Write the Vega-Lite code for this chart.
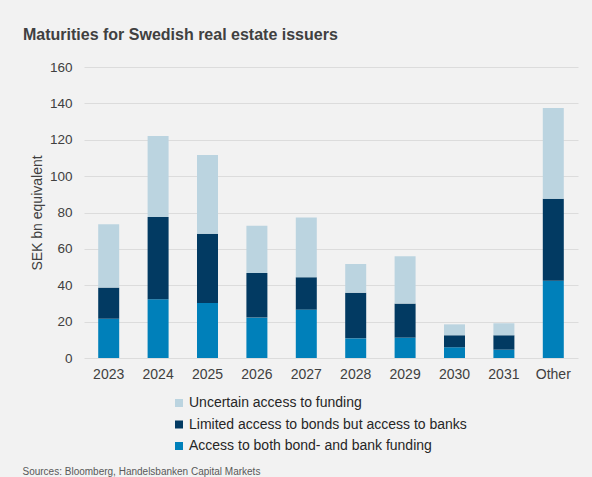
{
  "$schema": "https://vega.github.io/schema/vega-lite/v6.json",
  "width": 494,
  "height": 291,
  "autosize": {"type": "none"},
  "padding": {"left": 84, "top": 67, "right": 14, "bottom": 119},
  "background": "#F2F2F2",
  "config": {"view": {"stroke": null}, "font": "Liberation Sans"},
  "title": {
    "text": "Maturities for Swedish real estate issuers",
    "anchor": "start",
    "frame": "group",
    "dx": -61,
    "offset": 4,
    "fontSize": 16,
    "fontWeight": "bold",
    "font": "Liberation Sans",
    "color": "#404040",
    "baseline": "alphabetic"
  },
  "data": {
    "values": [
      {"year": "2023", "category": "Access to both bond- and bank funding", "value": 21.6},
      {"year": "2023", "category": "Limited access to bonds but access to banks", "value": 17.1},
      {"year": "2023", "category": "Uncertain access to funding", "value": 34.8},
      {"year": "2024", "category": "Access to both bond- and bank funding", "value": 32.3},
      {"year": "2024", "category": "Limited access to bonds but access to banks", "value": 45.2},
      {"year": "2024", "category": "Uncertain access to funding", "value": 44.5},
      {"year": "2025", "category": "Access to both bond- and bank funding", "value": 30.2},
      {"year": "2025", "category": "Limited access to bonds but access to banks", "value": 38.1},
      {"year": "2025", "category": "Uncertain access to funding", "value": 43.3},
      {"year": "2026", "category": "Access to both bond- and bank funding", "value": 22.2},
      {"year": "2026", "category": "Limited access to bonds but access to banks", "value": 24.5},
      {"year": "2026", "category": "Uncertain access to funding", "value": 26.0},
      {"year": "2027", "category": "Access to both bond- and bank funding", "value": 26.6},
      {"year": "2027", "category": "Limited access to bonds but access to banks", "value": 17.8},
      {"year": "2027", "category": "Uncertain access to funding", "value": 32.9},
      {"year": "2028", "category": "Access to both bond- and bank funding", "value": 10.8},
      {"year": "2028", "category": "Limited access to bonds but access to banks", "value": 25.1},
      {"year": "2028", "category": "Uncertain access to funding", "value": 15.8},
      {"year": "2029", "category": "Access to both bond- and bank funding", "value": 11.2},
      {"year": "2029", "category": "Limited access to bonds but access to banks", "value": 18.7},
      {"year": "2029", "category": "Uncertain access to funding", "value": 26.0},
      {"year": "2030", "category": "Access to both bond- and bank funding", "value": 5.9},
      {"year": "2030", "category": "Limited access to bonds but access to banks", "value": 6.6},
      {"year": "2030", "category": "Uncertain access to funding", "value": 6.0},
      {"year": "2031", "category": "Access to both bond- and bank funding", "value": 4.6},
      {"year": "2031", "category": "Limited access to bonds but access to banks", "value": 7.9},
      {"year": "2031", "category": "Uncertain access to funding", "value": 6.6},
      {"year": "Other", "category": "Access to both bond- and bank funding", "value": 42.5},
      {"year": "Other", "category": "Limited access to bonds but access to banks", "value": 45.1},
      {"year": "Other", "category": "Uncertain access to funding", "value": 49.8}
    ]
  },
  "mark": {"type": "bar"},
  "encoding": {
    "x": {
      "field": "year",
      "type": "nominal",
      "sort": null,
      "scale": {"paddingInner": 0.575, "paddingOuter": 0.2875},
      "axis": {
        "title": "Sources: Bloomberg, Handelsbanken Capital Markets",
        "labelAngle": 0,
        "domain": false,
        "ticks": false,
        "grid": false,
        "labelPadding": 9,
        "labelFontSize": 14,
        "labelColor": "#404040",
        "labelFont": "Liberation Sans",
        "titleX": -62,
        "titleY": 116,
        "titleAnchor": "start",
        "titleAlign": "left",
        "titleBaseline": "alphabetic",
        "titleFontSize": 10,
        "titleFontWeight": "normal",
        "titleColor": "#595959",
        "titleFont": "Liberation Sans"
      }
    },
    "y": {
      "field": "value",
      "type": "quantitative",
      "stack": "zero",
      "scale": {"domain": [0, 160], "nice": false},
      "axis": {
        "title": "SEK bn equivalent",
        "values": [0, 20, 40, 60, 80, 100, 120, 140, 160],
        "domain": false,
        "ticks": false,
        "labelPadding": 12,
        "labelFontSize": 13.5,
        "labelColor": "#404040",
        "labelFont": "Liberation Sans",
        "titleFontSize": 14,
        "titleFontWeight": "normal",
        "titleColor": "#404040",
        "titleFont": "Liberation Sans",
        "titlePadding": 5,
        "gridColor": "#DCDCDC",
        "gridWidth": 1
      }
    },
    "order": {"field": "category", "type": "nominal", "sort": "ascending"},
    "color": {
      "field": "category",
      "type": "nominal",
      "scale": {
        "domain": ["Uncertain access to funding", "Limited access to bonds but access to banks", "Access to both bond- and bank funding"],
        "range": ["#BBD4E0", "#023A62", "#0080BA"]
      },
      "legend": {
        "title": null,
        "orient": "none",
        "legendX": 88,
        "legendY": 329,
        "direction": "vertical",
        "symbolType": "square",
        "symbolSize": 64,
        "symbolStrokeWidth": 0,
        "labelFontSize": 14,
        "labelFont": "Liberation Sans",
        "labelColor": "#262626",
        "labelOffset": 3,
        "labelLimit": 0,
        "rowPadding": 7.5,
        "padding": 0
      }
    }
  }
}
